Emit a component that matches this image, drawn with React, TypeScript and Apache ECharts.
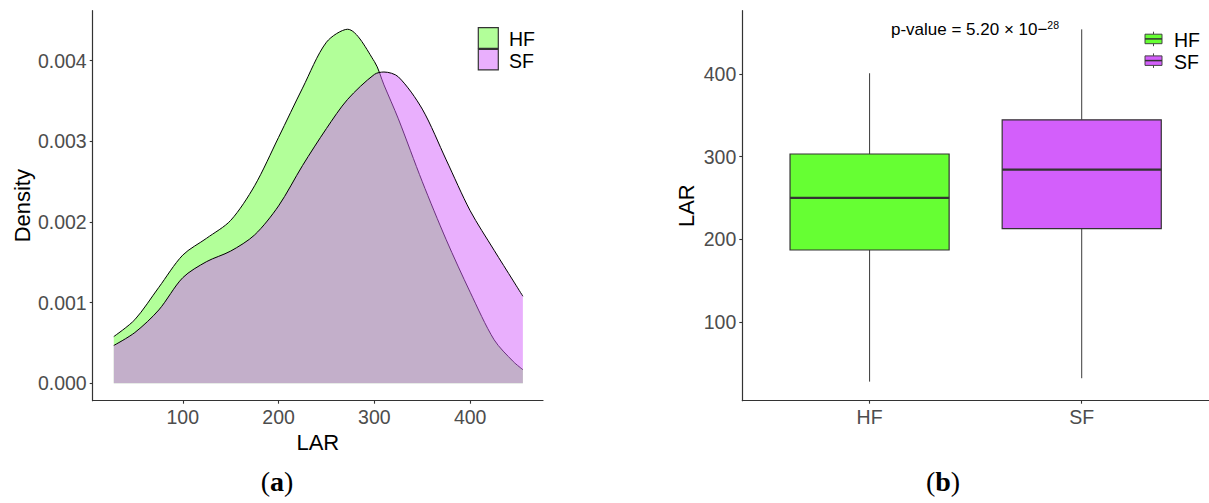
import React, { useEffect, useRef } from "react";
import * as echarts from "echarts";

// ---- data ----
const LAR_X = [28, 50, 75, 100, 125, 150, 175, 200, 225, 250, 272, 300, 310, 325, 350, 375, 400, 425, 445, 455];
const HF_DENSITY = [0.00058, 0.00079, 0.00119, 0.00159, 0.0018, 0.00202, 0.00245, 0.00305, 0.00366, 0.00423, 0.00439, 0.00399, 0.0037, 0.00328, 0.0025, 0.00178, 0.00113, 0.00054, 0.00027, 0.00017];
const SF_DENSITY = [0.00047, 0.00063, 0.00091, 0.00131, 0.00151, 0.00164, 0.00184, 0.0022, 0.0027, 0.00316, 0.00352, 0.00383, 0.00386, 0.0038, 0.0034, 0.00277, 0.00214, 0.00165, 0.00127, 0.00108];
const DENSITY_X_TICKS = [100, 200, 300, 400];
const DENSITY_Y_TICKS = [0, 0.001, 0.002, 0.003, 0.004];

const BOX_GROUPS = ["HF", "SF"];
const BOX_LOW = [27.6, 31.7];
const BOX_Q1 = [186.9, 212.7];
const BOX_MEDIAN = [250.0, 284.1];
const BOX_Q3 = [303.1, 344.4];
const BOX_HIGH = [400.8, 453.9];
const LAR_TICKS = [100, 200, 300, 400];

const HF_FILL = "rgba(102,255,51,0.5)";
const SF_FILL = "rgba(211,95,251,0.5)";
const HF_BOX = "#66FF33";
const SF_BOX = "#D35FFB";
const FONT = "'Liberation Sans', Arial, sans-serif";
const AXIS_COLOR = "#333333";
const TICK_LABEL = "#4D4D4D";

export default function App() {
  const ref = useRef<HTMLDivElement>(null);
  useEffect(() => {
    if (!ref.current) return;
    const chart = echarts.init(ref.current, null, { renderer: "svg" });

    const axisCommon = {
      axisLine: { show: true, onZero: false, lineStyle: { color: AXIS_COLOR, width: 1.2 } },
      axisTick: { show: true, length: 3, lineStyle: { color: AXIS_COLOR, width: 1.1 } },
      splitLine: { show: false },
    };
    const labelCommon = { color: TICK_LABEL, fontSize: 19.5, fontFamily: FONT, margin: 6 };

    const boxRender = (params: any, api: any) => {
      const x = api.value(0);
      const pLow = api.coord([x, api.value(1)]);
      const pQ1 = api.coord([x, api.value(2)]);
      const pMed = api.coord([x, api.value(3)]);
      const pQ3 = api.coord([x, api.value(4)]);
      const pHigh = api.coord([x, api.value(5)]);
      const half = api.size([0.375, 0])[0];
      const color = api.visual("color");
      return {
        type: "group",
        children: [
          { type: "line", shape: { x1: pLow[0], y1: pLow[1], x2: pQ1[0], y2: pQ1[1] }, style: { stroke: "#3a3a3a", lineWidth: 1 } },
          { type: "line", shape: { x1: pQ3[0], y1: pQ3[1], x2: pHigh[0], y2: pHigh[1] }, style: { stroke: "#3a3a3a", lineWidth: 1 } },
          { type: "rect", shape: { x: pMed[0] - half, y: pQ3[1], width: half * 2, height: pQ1[1] - pQ3[1] }, style: { fill: color, stroke: "#333", lineWidth: 1.2 } },
          { type: "line", shape: { x1: pMed[0] - half, y1: pMed[1], x2: pMed[0] + half, y2: pMed[1] }, style: { stroke: "#333", lineWidth: 2.2 } },
        ],
      };
    };

    const boxData = (i: number) => [[i + 1, BOX_LOW[i], BOX_Q1[i], BOX_MEDIAN[i], BOX_Q3[i], BOX_HIGH[i]]];

    const boxIcon = (y: number, fill: string) => ({
      type: "group",
      children: [
        { type: "line", shape: { x1: 1153.5, y1: y, x2: 1153.5, y2: y + 2.5 }, style: { stroke: "#444", lineWidth: 1 } },
        { type: "rect", shape: { x: 1145, y: y + 2.5, width: 17, height: 9.5 }, style: { fill, stroke: "#444", lineWidth: 1 } },
        { type: "line", shape: { x1: 1145, y1: y + 7.2, x2: 1162, y2: y + 7.2 }, style: { stroke: "#333", lineWidth: 1.5 } },
        { type: "line", shape: { x1: 1153.5, y1: y + 12, x2: 1153.5, y2: y + 14.5 }, style: { stroke: "#444", lineWidth: 1 } },
      ],
    });

    const serif = "'Liberation Serif', 'Times New Roman', serif";

    chart.setOption({
      animation: false,
      backgroundColor: "#ffffff",
      grid: [
        { left: 92.7, top: 10.7, width: 450.3, height: 390 },
        { left: 742.3, top: 10.7, width: 466.7, height: 390 },
      ],
      xAxis: [
        {
          gridIndex: 0, type: "value", min: 6, max: 476,
          name: "LAR", nameLocation: "middle", nameGap: 30,
          nameTextStyle: { color: "#000", fontSize: 22, fontFamily: FONT },
          ...axisCommon,
          axisTick: { ...axisCommon.axisTick, customValues: DENSITY_X_TICKS },
          axisLabel: { ...labelCommon, customValues: DENSITY_X_TICKS },
        },
        {
          gridIndex: 1, type: "value", min: 0.4, max: 2.6,
          ...axisCommon,
          axisTick: { ...axisCommon.axisTick, customValues: [1, 2] },
          axisLabel: { ...labelCommon, customValues: [1, 2], formatter: (v: number) => BOX_GROUPS[Math.round(v) - 1] },
        },
      ],
      yAxis: [
        {
          gridIndex: 0, type: "value", min: -0.000215, max: 0.00462,
          name: "Density", nameLocation: "middle", nameGap: 59,
          nameTextStyle: { color: "#000", fontSize: 22, fontFamily: FONT },
          ...axisCommon,
          axisTick: { ...axisCommon.axisTick, customValues: DENSITY_Y_TICKS },
          axisLabel: { ...labelCommon, customValues: DENSITY_Y_TICKS, formatter: (v: number) => v.toFixed(3) },
        },
        {
          gridIndex: 1, type: "value", min: 4.5, max: 476.5,
          name: "LAR", nameLocation: "middle", nameGap: 45,
          nameTextStyle: { color: "#000", fontSize: 22, fontFamily: FONT },
          ...axisCommon,
          axisTick: { ...axisCommon.axisTick, customValues: LAR_TICKS },
          axisLabel: { ...labelCommon, customValues: LAR_TICKS },
        },
      ],
      series: [
        {
          name: "HF", type: "line", xAxisIndex: 0, yAxisIndex: 0, smooth: 0.3, symbol: "none",
          data: LAR_X.map((x, i) => [x, HF_DENSITY[i]]),
          lineStyle: { color: "#000", width: 1 },
          itemStyle: { color: HF_FILL },
          areaStyle: { color: HF_FILL, opacity: 1, origin: 0 },
          z: 2,
        },
        {
          name: "SF", type: "line", xAxisIndex: 0, yAxisIndex: 0, smooth: 0.3, symbol: "none",
          data: LAR_X.map((x, i) => [x, SF_DENSITY[i]]),
          lineStyle: { color: "#000", width: 1 },
          itemStyle: { color: SF_FILL },
          areaStyle: { color: SF_FILL, opacity: 1, origin: 0 },
          z: 3,
        },
        {
          name: "HF box", type: "custom", xAxisIndex: 1, yAxisIndex: 1, renderItem: boxRender,
          itemStyle: { color: HF_BOX }, encode: { x: 0, y: [1, 2, 3, 4, 5] }, data: boxData(0), clip: false,
        },
        {
          name: "SF box", type: "custom", xAxisIndex: 1, yAxisIndex: 1, renderItem: boxRender,
          itemStyle: { color: SF_BOX }, encode: { x: 0, y: [1, 2, 3, 4, 5] }, data: boxData(1), clip: false,
        },
      ],
      graphic: [
        // left legend
        { type: "rect", shape: { x: 478.3, y: 27.7, width: 20, height: 20.6 }, style: { fill: HF_FILL, stroke: "#333", lineWidth: 1.2 } },
        { type: "rect", shape: { x: 478.3, y: 49.3, width: 20, height: 20.6 }, style: { fill: SF_FILL, stroke: "#333", lineWidth: 1.2 } },
        { type: "text", x: 509, y: 38.5, style: { text: "HF", fontSize: 19.5, fontFamily: FONT, fill: "#000", align: "left", verticalAlign: "middle" } },
        { type: "text", x: 509, y: 60.5, style: { text: "SF", fontSize: 19.5, fontFamily: FONT, fill: "#000", align: "left", verticalAlign: "middle" } },
        // right legend
        boxIcon(31.7, HF_BOX),
        boxIcon(53.4, SF_BOX),
        { type: "text", x: 1174, y: 39.8, style: { text: "HF", fontSize: 19.5, fontFamily: FONT, fill: "#000", align: "left", verticalAlign: "middle" } },
        { type: "text", x: 1174, y: 62, style: { text: "SF", fontSize: 19.5, fontFamily: FONT, fill: "#000", align: "left", verticalAlign: "middle" } },
        // p-value annotation
        {
          type: "text", x: 975, y: 29.5,
          style: {
            text: "{m|p-value = 5.20 × 10−}{s|28}", align: "center", verticalAlign: "middle",
            rich: {
              m: { fontSize: 17, fontFamily: FONT, fill: "#000", lineHeight: 20 },
              s: { fontSize: 10.5, fontFamily: FONT, fill: "#000", lineHeight: 12, verticalAlign: "top" },
            },
          },
        },
        // captions
        {
          type: "text", x: 277, y: 481,
          style: {
            text: "{p|(}{b|a}{p|)}", align: "center", verticalAlign: "middle",
            rich: {
              p: { fontSize: 28, fontFamily: serif, fill: "#000" },
              b: { fontSize: 28, fontWeight: "bold", fontFamily: serif, fill: "#000" },
            },
          },
        },
        {
          type: "text", x: 943, y: 481,
          style: {
            text: "{p|(}{b|b}{p|)}", align: "center", verticalAlign: "middle",
            rich: {
              p: { fontSize: 28, fontFamily: serif, fill: "#000" },
              b: { fontSize: 28, fontWeight: "bold", fontFamily: serif, fill: "#000" },
            },
          },
        },
      ],
    });
    return () => chart.dispose();
  }, []);
  return <div ref={ref} style={{ position: "fixed", left: 0, top: 0, width: 1209, height: 503, background: "#fff" }} />;
}
